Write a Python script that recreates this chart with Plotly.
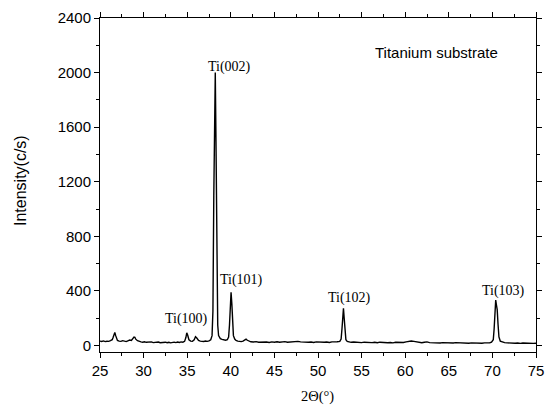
import plotly.graph_objects as go

# XRD pattern of the titanium substrate: 2-theta (deg) and intensity (counts/s)
two_theta = [
    25.0, 25.2, 25.4, 25.6, 25.8, 26.0, 26.2, 26.4, 26.5, 26.6, 26.7, 26.8, 26.9, 27.0,
    27.2, 27.4, 27.6, 27.8, 28.0, 28.2, 28.4, 28.6, 28.8, 28.9, 29.0, 29.1, 29.3, 29.5,
    29.7, 29.9, 30.1, 30.3, 30.5, 30.7, 30.9, 31.1, 31.3, 31.5, 31.7, 31.9, 32.1, 32.3,
    32.5, 32.7, 32.9, 33.1, 33.3, 33.5, 33.7, 33.9, 34.1, 34.3, 34.5, 34.7, 34.85, 34.95,
    35.05, 35.2, 35.4, 35.6, 35.8, 35.95, 36.1, 36.3, 36.5, 36.7, 36.9, 37.1, 37.3, 37.5,
    37.7, 37.85, 37.95, 38.05, 38.15, 38.22, 38.3, 38.4, 38.5, 38.6, 38.8, 39.0, 39.2,
    39.4, 39.6, 39.75, 39.85, 39.95, 40.03, 40.12, 40.2, 40.3, 40.45, 40.6, 40.8, 41.0,
    41.2, 41.4, 41.6, 41.75, 41.9, 42.1, 42.3, 42.6, 42.9, 43.2, 43.5, 43.8, 44.1, 44.4,
    44.7, 45.0, 45.3, 45.6, 45.9, 46.2, 46.5, 46.8, 47.1, 47.4, 47.7, 48.0, 48.3, 48.6,
    48.9, 49.2, 49.5, 49.8, 50.1, 50.4, 50.7, 51.0, 51.3, 51.6, 51.9, 52.2, 52.5, 52.65,
    52.75, 52.85, 52.92, 53.0, 53.1, 53.2, 53.35, 53.5, 53.8, 54.1, 54.4, 54.7, 55.0,
    55.3, 55.6, 55.9, 56.2, 56.5, 56.8, 57.1, 57.4, 57.7, 58.0, 58.3, 58.6, 58.9, 59.2,
    59.5, 59.8, 60.1, 60.4, 60.7, 61.0, 61.3, 61.6, 61.9, 62.2, 62.5, 62.8, 63.1, 63.4,
    63.7, 64.0, 64.3, 64.6, 64.9, 65.2, 65.5, 65.8, 66.1, 66.4, 66.7, 67.0, 67.3, 67.6,
    67.9, 68.2, 68.5, 68.8, 69.1, 69.4, 69.7, 69.9, 70.1, 70.2, 70.3, 70.38, 70.45,
    70.55, 70.65, 70.75, 70.9, 71.1, 71.4, 71.7, 72.0, 72.3, 72.6, 72.9, 73.2, 73.5,
    73.8, 74.1, 74.4, 74.7, 75.0,
]
intensity = [
    32, 29, 33, 28, 31, 30, 35, 42, 58, 80, 95, 72, 47, 37,
    32, 30, 35, 31, 28, 34, 40, 36, 50, 62, 60, 46, 35, 29,
    26, 24, 27, 23, 25, 22, 26, 21, 24, 22, 25, 20, 23, 21,
    24, 20, 23, 19, 22, 24, 21, 25, 22, 26, 24, 30, 58, 93,
    77, 42, 32, 30, 42, 64, 54, 37, 32, 30, 29, 32, 30, 34,
    42, 72, 250, 1100, 1900, 2000, 1500, 600, 150, 72, 50, 44, 40,
    38, 42, 62, 150, 335, 389, 305, 150, 72, 47, 37, 32, 30,
    28, 32, 40, 46, 38, 30, 27, 25, 28, 24, 26, 23, 25, 22,
    26, 24, 27, 23, 25, 28, 24, 26, 23, 27, 30, 26, 24, 27,
    23, 25, 22, 26, 24, 27, 23, 25, 22, 26, 24, 27, 30, 47,
    122, 262, 272, 202, 82, 42, 30, 26, 23, 25, 22, 24, 21,
    24, 22, 25, 21, 23, 20, 24, 21, 23, 20, 22, 19, 23, 21,
    24, 22, 26, 29, 33, 30, 25, 22, 20, 23, 26, 21, 19, 22,
    20, 18, 21, 19, 17, 20, 18, 21, 19, 17, 20, 18, 16, 19,
    17, 20, 18, 16, 19, 17, 20, 24, 42, 122, 282, 332, 302,
    262, 152, 62, 32, 26, 21, 19, 17, 19, 16, 18, 15, 18,
    16, 14, 17, 15, 16,
]

# Reflection labels: text, 2-theta position, intensity position
peak_labels = ["Ti(100)", "Ti(002)", "Ti(101)", "Ti(102)", "Ti(103)"]
label_x = [34.9, 39.9, 41.2, 53.6, 71.3]
label_y = [193, 2043, 479, 347, 401]

x_range = [25, 75]
y_range = [-48, 2400]

fig = go.Figure()
fig.add_trace(go.Scatter(
    x=two_theta, y=intensity, mode="lines",
    line=dict(color="black", width=1.4), showlegend=False, hoverinfo="skip",
))

tick_font = dict(family="Liberation Sans, Arial", size=15, color="black")

fig.update_layout(
    width=546, height=405,
    margin=dict(l=100, r=10, t=18, b=53, autoexpand=False),
    paper_bgcolor="white", plot_bgcolor="white",
    xaxis=dict(
        range=x_range, dtick=5, tick0=25, showgrid=False, zeroline=False,
        showline=True, linecolor="black", linewidth=1, mirror="ticks",
        ticks="outside", ticklen=5, tickcolor="black", tickfont=tick_font,
        minor=dict(dtick=2.5, tick0=25, ticks="outside", ticklen=3, tickcolor="black", showgrid=False),
    ),
    yaxis=dict(
        range=y_range, dtick=400, tick0=0, showgrid=False, zeroline=False,
        showline=True, linecolor="black", linewidth=1, mirror="ticks",
        ticks="outside", ticklen=5, tickcolor="black", tickfont=tick_font,
        minor=dict(dtick=200, tick0=0, ticks="outside", ticklen=3, tickcolor="black", showgrid=False),
    ),
)

serif = dict(family="Liberation Serif, Times New Roman", size=14, color="black")
for text, lx, ly in zip(peak_labels, label_x, label_y):
    fig.add_annotation(x=lx, y=ly, text=text, showarrow=False, font=serif,
                       xanchor="center", yanchor="middle")

fig.add_annotation(x=63.6, y=2145, text="Titanium substrate", showarrow=False,
                   font=dict(family="Liberation Sans, Arial", size=15, color="black"),
                   xanchor="center", yanchor="middle")

fig.add_annotation(xref="paper", yref="paper", x=(20 - 100) / 436, y=(352 - 181) / 334,
                   text="Intensity(c/s)", textangle=-90, showarrow=False,
                   font=dict(family="Liberation Sans, Arial", size=16, color="black"),
                   xanchor="center", yanchor="middle")

fig.add_annotation(xref="paper", yref="paper", x=(317 - 100) / 436, y=(352 - 397) / 334,
                   text="2Θ(°)", showarrow=False,
                   font=dict(family="Liberation Serif, Times New Roman", size=14.5, color="black"),
                   xanchor="center", yanchor="middle")

fig.write_html("out.html")
